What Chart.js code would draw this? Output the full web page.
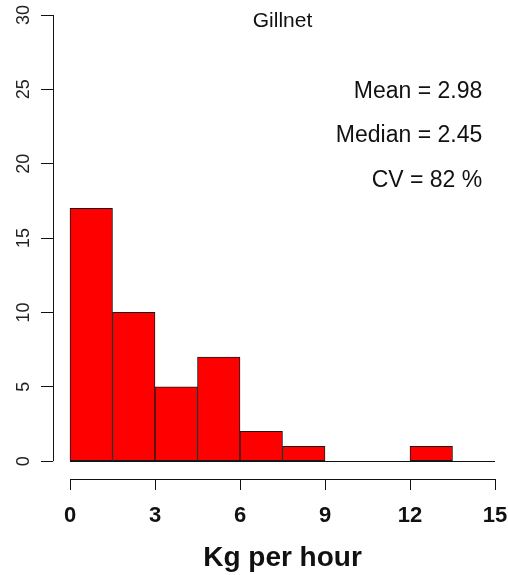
<!DOCTYPE html>
<html>
<head>
<meta charset="utf-8">
<script src="https://cdn.jsdelivr.net/npm/chart.js@4/dist/chart.umd.min.js"></script>
<style>
  html, body { margin: 0; padding: 0; background: #ffffff; }
  #wrap { width: 508px; height: 575px; position: relative; }
</style>
</head>
<body>
<div id="wrap"><canvas id="hist"></canvas></div>
<script>
// Histogram of gillnet catch rates (kg per hour), bins of 1.5 kg/h
const binEdges = [0, 1.5, 3, 4.5, 6, 7.5, 9, 10.5, 12, 13.5];
const binCounts = [17, 10, 5, 7, 2, 1, 0, 0, 1];
const xTickValues = [0, 3, 6, 9, 12, 15];
const yTickValues = [0, 5, 10, 15, 20, 25, 30];
const gearName = 'Gillnet';
const statLines = ['Mean = 2.98', 'Median = 2.45', 'CV = 82 %'];
const statYValues = [25, 22, 19];
const xAxisTitle = 'Kg per hour';

const binWidth = binEdges[1] - binEdges[0];
const points = binCounts.map((c, i) => ({ x: binEdges[i] + binWidth / 2, y: c }));
const xEnd = xTickValues[xTickValues.length - 1];
const yTop = yTickValues[yTickValues.length - 1];

// Axis lines, y tick labels and text annotations drawn on top of the chart
const annotate = {
  id: 'annotate',
  afterDraw(chart) {
    const { ctx, chartArea, scales } = chart;
    const xs = scales.x, ys = scales.y;
    ctx.save();
    ctx.strokeStyle = '#111';
    ctx.lineWidth = 1;
    ctx.beginPath();
    // y axis (0..30) at the left edge of the plot area
    const ax = Math.round(chartArea.left) + 0.5;
    ctx.moveTo(ax, ys.getPixelForValue(0));
    ctx.lineTo(ax, ys.getPixelForValue(yTop));
    // x axis (0..15) at the bottom edge
    const ay = Math.round(chartArea.bottom) + 0.5;
    ctx.moveTo(xs.getPixelForValue(0), ay);
    ctx.lineTo(xs.getPixelForValue(xEnd), ay);
    // zero line under the bars
    const zy = Math.round(ys.getPixelForValue(0)) + 0.5;
    ctx.moveTo(xs.getPixelForValue(0), zy);
    ctx.lineTo(xs.getPixelForValue(xEnd), zy);
    ctx.stroke();

    // rotated y tick labels
    ctx.fillStyle = '#222';
    ctx.font = '18px "Liberation Sans", Arial, sans-serif';
    ctx.textAlign = 'center';
    ctx.textBaseline = 'alphabetic';
    yTickValues.forEach(v => {
      ctx.save();
      ctx.translate(chartArea.left - 24, ys.getPixelForValue(v));
      ctx.rotate(-Math.PI / 2);
      ctx.fillText(String(v), 0, 0);
      ctx.restore();
    });

    // gear name
    ctx.fillStyle = '#111';
    ctx.font = '21px "Liberation Sans", Arial, sans-serif';
    ctx.textAlign = 'center';
    ctx.textBaseline = 'middle';
    ctx.fillText(gearName, xs.getPixelForValue(xEnd / 2), chartArea.top + 6);

    // summary statistics, right aligned
    ctx.font = '23px "Liberation Sans", Arial, sans-serif';
    ctx.textAlign = 'right';
    statLines.forEach((t, i) => {
      ctx.fillText(t, xs.getPixelForValue(14.55), ys.getPixelForValue(statYValues[i]) + 2);
    });

    // x axis title
    ctx.font = 'bold 28px "Liberation Sans", Arial, sans-serif';
    ctx.textAlign = 'center';
    ctx.fillText(xAxisTitle, xs.getPixelForValue(xEnd / 2), chart.height - 17);
    ctx.restore();
  }
};

new Chart(document.getElementById('hist'), {
  type: 'bar',
  data: {
    datasets: [{
      data: points,
      backgroundColor: '#ff0000',
      borderColor: '#1a1a1a',
      borderWidth: 1,
      borderSkipped: false,
      barPercentage: 1,
      categoryPercentage: 1
    }]
  },
  options: {
    responsive: true,
    maintainAspectRatio: false,
    animation: false,
    layout: { padding: { top: 15, right: 13, left: 0, bottom: 0 } },
    plugins: { legend: { display: false }, tooltip: { enabled: false }, title: { display: false } },
    scales: {
      x: {
        type: 'linear',
        offset: false,
        min: -0.6,
        max: xEnd,
        afterBuildTicks: s => { s.ticks = xTickValues.map(v => ({ value: v })); },
        afterFit: s => { s.height = 96; s.paddingLeft = 0; s.paddingRight = 0; },
        border: { display: false },
        grid: { offset: false, drawOnChartArea: false, drawTicks: true, tickLength: 11, color: '#111', lineWidth: 1 },
        ticks: {
          color: '#111',
          font: { family: '"Liberation Sans", Arial, sans-serif', size: 22, weight: 'bold' },
          padding: 13,
          maxRotation: 0,
          autoSkip: false
        }
      },
      y: {
        type: 'linear',
        min: -1.2,
        max: yTop,
        afterBuildTicks: s => { s.ticks = yTickValues.map(v => ({ value: v })); },
        afterFit: s => { s.width = 53; s.paddingTop = 0; s.paddingBottom = 0; },
        border: { display: false },
        grid: { drawOnChartArea: false, drawTicks: true, tickLength: 12, color: '#111', lineWidth: 1 },
        ticks: { display: false }
      }
    }
  },
  plugins: [annotate]
});
</script>
</body>
</html>
